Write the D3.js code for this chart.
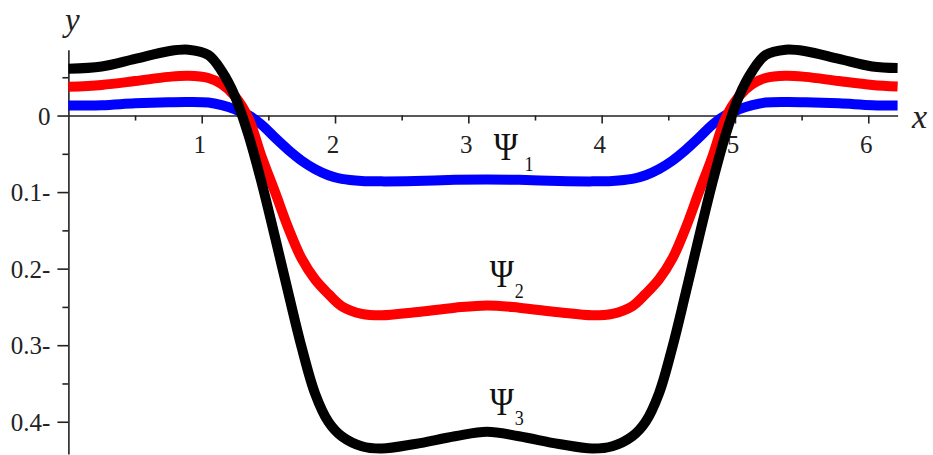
<!DOCTYPE html>
<html>
<head>
<meta charset="utf-8">
<script src="https://cdn.jsdelivr.net/npm/d3@7"></script>
<style>
  html, body { margin: 0; padding: 0; background: #fff; }
  svg { display: block; }
  .tick text { font-family: "Liberation Serif", "Times New Roman", serif; fill: #222; }
</style>
</head>
<body>
<svg id="chart" width="933" height="455"></svg>
<script>
// Sample positions along x (radians)
const xs = [0, 0.25, 0.5, 0.75, 0.9, 1.05, 1.15, 1.25, 1.35, 1.45, 1.55, 1.65, 1.75, 1.85, 1.95, 2.05, 2.2, 2.35, 2.6, 2.9, 3.14,
            3.38, 3.68, 3.93, 4.08, 4.23, 4.33, 4.43, 4.53, 4.63, 4.73, 4.83, 4.93, 5.03, 5.13, 5.23, 5.38, 5.53, 5.78, 6.03, 6.22];

// Ψ1 (blue)
const psi1 = [0.013, 0.0135, 0.016, 0.0175, 0.0178, 0.017, 0.0135, 0.008, 0.0005, -0.012, -0.029, -0.045, -0.059, -0.070, -0.078, -0.0828, -0.0855, -0.086, -0.0855, -0.084, -0.0836,
              -0.084, -0.0855, -0.086, -0.0855, -0.0828, -0.078, -0.070, -0.059, -0.045, -0.029, -0.012, 0.0005, 0.008, 0.0135, 0.017, 0.0178, 0.0175, 0.016, 0.0135, 0.013];

// Ψ2 (red)
const psi2 = [0.0375, 0.040, 0.045, 0.0505, 0.052, 0.049, 0.041, 0.025, -0.003, -0.054, -0.100, -0.147, -0.187, -0.214, -0.233, -0.249, -0.259, -0.261, -0.257, -0.251, -0.248,
              -0.251, -0.257, -0.261, -0.259, -0.249, -0.233, -0.214, -0.187, -0.147, -0.100, -0.054, -0.003, 0.025, 0.041, 0.049, 0.052, 0.0505, 0.045, 0.040, 0.038];

// Ψ3 (black)
const psi3 = [0.061, 0.064, 0.074, 0.084, 0.086, 0.079, 0.058, 0.025, -0.025, -0.088, -0.159, -0.232, -0.303, -0.363, -0.400, -0.419, -0.432, -0.435, -0.429, -0.419, -0.413,
              -0.419, -0.429, -0.435, -0.432, -0.419, -0.400, -0.363, -0.303, -0.232, -0.159, -0.088, -0.025, 0.025, 0.058, 0.079, 0.086, 0.084, 0.074, 0.064, 0.062];

const seriesNames = ["Ψ1", "Ψ2", "Ψ3"];
const seriesColors = ["#0000ff", "#ff0000", "#000000"];
const seriesSubs = ["1", "2", "3"];
// label anchor (data coords, left/baseline of the Ψ glyph)
const labelX = [3.19, 3.16, 3.16];
const labelY = [-0.058, -0.224, -0.391];

const xTicks = [1, 2, 3, 4, 5, 6];
const xMinor = [0.5, 1.5, 2.5, 3.5, 4.5, 5.5];
const yTicks = [0, -0.1, -0.2, -0.3, -0.4];
const yMinor = [0.05, -0.05, -0.15, -0.25, -0.35];

const svg = d3.select("#chart");

const x = d3.scaleLinear().domain([0, 6.22]).range([68.4, 897.6]);
const y = d3.scaleLinear().domain([-0.442, 0.086]).range([453.9, 49.7]);

const fontFam = '"Liberation Serif", "Times New Roman", serif';
const axisColor = "#222";

// x axis (through y = 0)
const gx = svg.append("g").attr("transform", `translate(0,${y(0)})`);
gx.call(d3.axisBottom(x).tickValues(xTicks).tickSize(8).tickSizeOuter(0).tickFormat(d3.format("d")));
gx.append("g").call(d3.axisBottom(x).tickValues(xMinor).tickSize(5).tickSizeOuter(0).tickFormat(""))
  .select(".domain").remove();

// y axis
const gy = svg.append("g").attr("transform", `translate(${x(0)},0)`);
gy.call(d3.axisLeft(y).tickValues(yTicks).tickSize(11).tickSizeOuter(0).tickPadding(7)
  .tickFormat(d => d === 0 ? "0" : `${Math.abs(d)}-`));
gy.append("g").call(d3.axisLeft(y).tickValues(yMinor).tickSize(6).tickSizeOuter(0).tickFormat(""))
  .select(".domain").remove();

svg.selectAll(".domain, .tick line").attr("stroke", axisColor).attr("stroke-width", 1.6);
gx.selectAll(".tick text").attr("font-size", 25).attr("font-family", fontFam)
  .attr("y", 37).attr("dy", null).attr("dx", -2.5);
gy.selectAll(".tick text").attr("font-size", 25).attr("font-family", fontFam).attr("dy", "0.34em");

// axis names
svg.append("text").attr("x", 65).attr("y", 31).attr("font-family", fontFam)
  .attr("font-style", "italic").attr("font-size", 33).attr("fill", axisColor).text("y");
svg.append("text").attr("x", 912).attr("y", 128).attr("font-family", fontFam)
  .attr("font-style", "italic").attr("font-size", 34).attr("fill", axisColor).text("x");

// curves
const line = d3.line().x(d => x(d[0])).y(d => y(d[1])).curve(d3.curveCatmullRom.alpha(0.5));
const allSeries = [psi1, psi2, psi3];
svg.append("g").selectAll("path")
  .data(allSeries)
  .join("path")
  .attr("d", vals => line(xs.map((xv, i) => [xv, vals[i]])))
  .attr("fill", "none")
  .attr("stroke", (d, i) => seriesColors[i])
  .attr("stroke-width", 10)
  .attr("stroke-linejoin", "round");

// curve labels Ψ with subscripts
seriesNames.forEach((name, i) => {
  const t = svg.append("text")
    .attr("transform", `translate(${x(labelX[i])},${y(labelY[i])}) scale(0.82,1)`)
    .attr("font-family", fontFam).attr("fill", "#111");
  t.append("tspan").attr("font-size", 40).text("Ψ");
  t.append("tspan").attr("font-size", 22).attr("dx", i === 0 ? 8 : 1).attr("dy", i === 2 ? 10 : 11).text(seriesSubs[i]);
});
</script>
</body>
</html>
